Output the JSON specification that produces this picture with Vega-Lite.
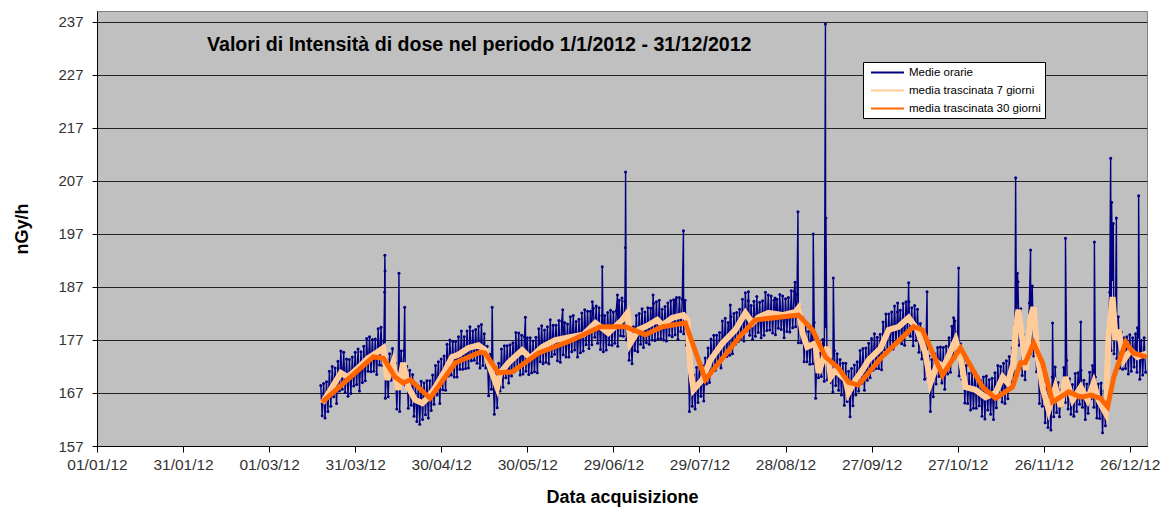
{
"$schema": "https://vega.github.io/schema/vega-lite/v6.json",
"width": 1050, "height": 435,
"autosize": {"type": "none"},
"padding": {"left": 97, "top": 11, "right": 18, "bottom": 62},
"background": "white",
"title": {"text": "Valori di Intensità di dose nel periodo 1/1/2012 - 31/12/2012", "anchor": "start", "frame": "group", "orient": "top", "offset": -54, "dx": 110, "baseline": "middle", "fontSize": 19.6, "fontWeight": "bold", "font": "Liberation Sans", "color": "black"},
"config": {
 "font": "Liberation Sans",
 "view": {"fill": "#C0C0C0", "stroke": "#808080", "strokeWidth": 1},
 "axis": {"domainColor": "black", "tickColor": "black", "labelColor": "#333333", "labelFont": "Liberation Sans", "titleFont": "Liberation Sans", "titleColor": "black", "titleFontWeight": "bold", "titleFontSize": 18}
},
"datasets": {
 "orarie": [
{"t":"2012-03-19","v":168.4},{"t":"2012-03-19T12:00Z","v":162.7},{"t":"2012-03-20","v":168.8},{"t":"2012-03-20T12:00Z","v":162.3},{"t":"2012-03-21","v":169.1},{"t":"2012-03-21T12:00Z","v":163.5},{"t":"2012-03-22","v":171.1},{"t":"2012-03-22T12:00Z","v":164.5},{"t":"2012-03-23","v":172.0},{"t":"2012-03-23T12:00Z","v":166.3},{"t":"2012-03-24","v":171.7},{"t":"2012-03-24T12:00Z","v":165.0},{"t":"2012-03-25","v":173.0},{"t":"2012-03-25T12:00Z","v":167.4},{"t":"2012-03-26","v":174.9},{"t":"2012-03-26T12:00Z","v":167.7},{"t":"2012-03-27","v":174.7},{"t":"2012-03-27T12:00Z","v":167.1},{"t":"2012-03-28","v":173.4},{"t":"2012-03-28T12:00Z","v":166.4},{"t":"2012-03-29","v":173.3},{"t":"2012-03-29T12:00Z","v":166.9},{"t":"2012-03-30","v":173.8},{"t":"2012-03-30T12:00Z","v":168.3},{"t":"2012-03-31","v":174.7},{"t":"2012-03-31T12:00Z","v":168.6},
{"t":"2012-04-01","v":175.3},{"t":"2012-04-01T12:00Z","v":167.4},{"t":"2012-04-02","v":174.8},{"t":"2012-04-02T12:00Z","v":169.0},{"t":"2012-04-03","v":175.8},{"t":"2012-04-03T12:00Z","v":169.3},{"t":"2012-04-04","v":177.3},{"t":"2012-04-04T12:00Z","v":171.1},{"t":"2012-04-05","v":177.6},{"t":"2012-04-05T12:00Z","v":171.0},{"t":"2012-04-06","v":177.1},{"t":"2012-04-06T12:00Z","v":171.1},{"t":"2012-04-07","v":177.2},{"t":"2012-04-07T12:00Z","v":170.5},{"t":"2012-04-08","v":179.1},{"t":"2012-04-08T12:00Z","v":172.3},{"t":"2012-04-09","v":179.4},{"t":"2012-04-09T12:00Z","v":172.2},{"t":"2012-04-10","v":176.8},{"t":"2012-04-10T06:00Z","v":186.0},{"t":"2012-04-10T08:00Z","v":193.0},{"t":"2012-04-10T10:00Z","v":190.0},{"t":"2012-04-10T12:00Z","v":166.0},{"t":"2012-04-11","v":173.3},{"t":"2012-04-11T12:00Z","v":166.3},{"t":"2012-04-12","v":174.4},{"t":"2012-04-12T12:00Z","v":169.4},{"t":"2012-04-13","v":175.4},{"t":"2012-04-13T12:00Z","v":169.9},{"t":"2012-04-14","v":172.6},{"t":"2012-04-14T12:00Z","v":164.0},{"t":"2012-04-15","v":171.4},{"t":"2012-04-15T06:00Z","v":189.6},{"t":"2012-04-15T12:00Z","v":163.5},{"t":"2012-04-16","v":174.9},{"t":"2012-04-16T12:00Z","v":169.3},{"t":"2012-04-17","v":175.0},{"t":"2012-04-17T06:00Z","v":183.2},{"t":"2012-04-17T12:00Z","v":168.5},{"t":"2012-04-18","v":172.0},{"t":"2012-04-18T12:00Z","v":164.1},{"t":"2012-04-19","v":171.3},{"t":"2012-04-19T12:00Z","v":164.7},{"t":"2012-04-20","v":170.5},{"t":"2012-04-20T12:00Z","v":162.6},{"t":"2012-04-21","v":168.3},{"t":"2012-04-21T12:00Z","v":161.6},{"t":"2012-04-22","v":168.2},{"t":"2012-04-22T12:00Z","v":161.1},{"t":"2012-04-23","v":169.2},{"t":"2012-04-23T12:00Z","v":162.0},{"t":"2012-04-24","v":168.9},{"t":"2012-04-24T12:00Z","v":162.9},{"t":"2012-04-25","v":169.3},{"t":"2012-04-25T12:00Z","v":162.3},{"t":"2012-04-26","v":169.3},{"t":"2012-04-26T12:00Z","v":163.7},{"t":"2012-04-27","v":170.4},{"t":"2012-04-27T12:00Z","v":164.9},{"t":"2012-04-28","v":172.2},{"t":"2012-04-28T12:00Z","v":166.6},{"t":"2012-04-29","v":172.9},{"t":"2012-04-29T12:00Z","v":165.0},{"t":"2012-04-30","v":173.4},{"t":"2012-04-30T12:00Z","v":167.6},
{"t":"2012-05-01","v":174.0},{"t":"2012-05-01T12:00Z","v":167.5},{"t":"2012-05-02","v":176.2},{"t":"2012-05-02T12:00Z","v":170.2},{"t":"2012-05-03","v":177.0},{"t":"2012-05-03T12:00Z","v":170.4},{"t":"2012-05-04","v":176.7},{"t":"2012-05-04T12:00Z","v":170.0},{"t":"2012-05-05","v":176.7},{"t":"2012-05-05T12:00Z","v":170.0},{"t":"2012-05-06","v":177.6},{"t":"2012-05-06T12:00Z","v":171.5},{"t":"2012-05-07","v":178.7},{"t":"2012-05-07T12:00Z","v":171.5},{"t":"2012-05-08","v":177.6},{"t":"2012-05-08T12:00Z","v":171.6},{"t":"2012-05-09","v":178.7},{"t":"2012-05-09T12:00Z","v":171.7},{"t":"2012-05-10","v":179.5},{"t":"2012-05-10T12:00Z","v":173.1},{"t":"2012-05-11","v":178.7},{"t":"2012-05-11T12:00Z","v":173.2},{"t":"2012-05-12","v":179.0},{"t":"2012-05-12T12:00Z","v":172.6},{"t":"2012-05-13","v":179.6},{"t":"2012-05-13T12:00Z","v":171.7},{"t":"2012-05-14","v":179.9},{"t":"2012-05-14T12:00Z","v":172.2},{"t":"2012-05-15","v":178.2},{"t":"2012-05-15T12:00Z","v":171.7},{"t":"2012-05-16","v":175.8},{"t":"2012-05-16T12:00Z","v":166.5},{"t":"2012-05-17","v":174.3},{"t":"2012-05-17T12:00Z","v":167.7},{"t":"2012-05-17T18:00Z","v":183.2},{"t":"2012-05-18","v":172.2},{"t":"2012-05-18T12:00Z","v":163.0},{"t":"2012-05-19","v":170.9},{"t":"2012-05-19T12:00Z","v":164.2},{"t":"2012-05-20","v":172.6},{"t":"2012-05-20T12:00Z","v":167.4},{"t":"2012-05-21","v":175.3},{"t":"2012-05-21T12:00Z","v":168.1},{"t":"2012-05-22","v":175.9},{"t":"2012-05-22T12:00Z","v":169.9},{"t":"2012-05-23","v":175.9},{"t":"2012-05-23T12:00Z","v":168.9},{"t":"2012-05-24","v":176.1},{"t":"2012-05-24T12:00Z","v":170.2},{"t":"2012-05-25","v":176.5},{"t":"2012-05-25T12:00Z","v":171.0},{"t":"2012-05-26","v":178.4},{"t":"2012-05-26T12:00Z","v":171.7},{"t":"2012-05-27","v":178.3},{"t":"2012-05-27T12:00Z","v":170.4},{"t":"2012-05-28","v":177.9},{"t":"2012-05-28T12:00Z","v":170.6},{"t":"2012-05-29","v":177.6},{"t":"2012-05-29T08:00Z","v":181.3},{"t":"2012-05-29T12:00Z","v":171.1},{"t":"2012-05-30","v":177.4},{"t":"2012-05-30T12:00Z","v":170.5},{"t":"2012-05-31","v":177.4},{"t":"2012-05-31T12:00Z","v":170.8},
{"t":"2012-06-01","v":176.8},{"t":"2012-06-01T12:00Z","v":171.0},{"t":"2012-06-02","v":177.5},{"t":"2012-06-02T12:00Z","v":170.8},{"t":"2012-06-03","v":179.1},{"t":"2012-06-03T12:00Z","v":172.9},{"t":"2012-06-04","v":179.7},{"t":"2012-06-04T12:00Z","v":172.5},{"t":"2012-06-05","v":178.9},{"t":"2012-06-05T12:00Z","v":172.8},{"t":"2012-06-06","v":179.5},{"t":"2012-06-06T12:00Z","v":172.5},{"t":"2012-06-07","v":180.8},{"t":"2012-06-07T12:00Z","v":173.9},{"t":"2012-06-08","v":179.8},{"t":"2012-06-08T12:00Z","v":174.3},{"t":"2012-06-09","v":179.8},{"t":"2012-06-09T12:00Z","v":173.1},{"t":"2012-06-10","v":180.7},{"t":"2012-06-10T12:00Z","v":172.8},{"t":"2012-06-11","v":180.6},{"t":"2012-06-11T08:00Z","v":182.7},{"t":"2012-06-11T12:00Z","v":174.2},{"t":"2012-06-12","v":180.3},{"t":"2012-06-12T12:00Z","v":173.8},{"t":"2012-06-13","v":180.0},{"t":"2012-06-13T12:00Z","v":173.8},{"t":"2012-06-14","v":181.4},{"t":"2012-06-14T12:00Z","v":174.8},{"t":"2012-06-15","v":181.6},{"t":"2012-06-15T12:00Z","v":175.1},{"t":"2012-06-16","v":180.5},{"t":"2012-06-16T12:00Z","v":173.8},{"t":"2012-06-17","v":180.9},{"t":"2012-06-17T12:00Z","v":174.6},{"t":"2012-06-18","v":182.1},{"t":"2012-06-18T12:00Z","v":174.9},{"t":"2012-06-19","v":182.7},{"t":"2012-06-19T12:00Z","v":176.1},{"t":"2012-06-20","v":182.4},{"t":"2012-06-20T12:00Z","v":175.4},{"t":"2012-06-21","v":182.4},{"t":"2012-06-21T12:00Z","v":176.1},{"t":"2012-06-21T16:00Z","v":184.2},{"t":"2012-06-22","v":183.0},{"t":"2012-06-22T12:00Z","v":177.5},{"t":"2012-06-23","v":183.4},{"t":"2012-06-23T12:00Z","v":176.4},{"t":"2012-06-24","v":183.1},{"t":"2012-06-24T12:00Z","v":175.2},{"t":"2012-06-25","v":181.6},{"t":"2012-06-25T03:00Z","v":190.8},{"t":"2012-06-25T12:00Z","v":174.8},{"t":"2012-06-26","v":181.6},{"t":"2012-06-26T12:00Z","v":175.1},{"t":"2012-06-27","v":182.2},{"t":"2012-06-27T12:00Z","v":176.1},{"t":"2012-06-28","v":182.6},{"t":"2012-06-28T12:00Z","v":176.0},{"t":"2012-06-29","v":182.3},{"t":"2012-06-29T12:00Z","v":176.4},{"t":"2012-06-30","v":182.5},{"t":"2012-06-30T10:00Z","v":185.5},{"t":"2012-06-30T12:00Z","v":175.8},
{"t":"2012-07-01","v":184.5},{"t":"2012-07-01T12:00Z","v":177.8},{"t":"2012-07-02","v":184.9},{"t":"2012-07-02T12:00Z","v":177.7},{"t":"2012-07-03","v":184.3},{"t":"2012-07-03T04:00Z","v":194.4},{"t":"2012-07-03T06:00Z","v":208.7},{"t":"2012-07-03T12:00Z","v":177.0},{"t":"2012-07-04","v":181.5},{"t":"2012-07-04T12:00Z","v":173.2},{"t":"2012-07-05","v":179.0},{"t":"2012-07-05T12:00Z","v":172.5},{"t":"2012-07-06","v":179.5},{"t":"2012-07-06T12:00Z","v":175.0},{"t":"2012-07-07","v":181.6},{"t":"2012-07-07T12:00Z","v":174.8},{"t":"2012-07-08","v":182.0},{"t":"2012-07-08T12:00Z","v":176.2},{"t":"2012-07-09","v":182.9},{"t":"2012-07-09T12:00Z","v":175.6},{"t":"2012-07-10","v":182.3},{"t":"2012-07-10T12:00Z","v":176.5},{"t":"2012-07-11","v":183.1},{"t":"2012-07-11T12:00Z","v":176.2},{"t":"2012-07-12","v":183.0},{"t":"2012-07-12T12:00Z","v":177.0},{"t":"2012-07-12T20:00Z","v":185.5},{"t":"2012-07-13","v":183.9},{"t":"2012-07-13T12:00Z","v":176.9},{"t":"2012-07-14","v":184.2},{"t":"2012-07-14T12:00Z","v":177.2},{"t":"2012-07-15","v":184.5},{"t":"2012-07-15T12:00Z","v":177.3},{"t":"2012-07-16","v":182.8},{"t":"2012-07-16T12:00Z","v":177.0},{"t":"2012-07-17","v":183.3},{"t":"2012-07-17T12:00Z","v":176.8},{"t":"2012-07-18","v":184.0},{"t":"2012-07-18T12:00Z","v":177.9},{"t":"2012-07-19","v":184.4},{"t":"2012-07-19T12:00Z","v":177.6},{"t":"2012-07-20","v":184.6},{"t":"2012-07-20T12:00Z","v":178.0},{"t":"2012-07-20T14:00Z","v":184.5},{"t":"2012-07-21","v":185.0},{"t":"2012-07-21T12:00Z","v":177.1},{"t":"2012-07-22","v":185.0},{"t":"2012-07-22T12:00Z","v":178.6},{"t":"2012-07-23","v":184.7},{"t":"2012-07-23T10:00Z","v":197.6},{"t":"2012-07-23T12:00Z","v":178.2},{"t":"2012-07-24","v":184.5},{"t":"2012-07-24T12:00Z","v":176.0},{"t":"2012-07-25","v":180.5},{"t":"2012-07-25T12:00Z","v":163.5},{"t":"2012-07-26","v":172.0},{"t":"2012-07-26T12:00Z","v":164.5},{"t":"2012-07-27","v":170.4},{"t":"2012-07-27T12:00Z","v":164.0},{"t":"2012-07-28","v":171.8},{"t":"2012-07-28T12:00Z","v":165.2},{"t":"2012-07-29","v":172.2},{"t":"2012-07-29T12:00Z","v":166.4},{"t":"2012-07-30","v":172.2},{"t":"2012-07-30T12:00Z","v":165.5},{"t":"2012-07-31","v":173.6},{"t":"2012-07-31T12:00Z","v":168.7},
{"t":"2012-08-01","v":175.5},{"t":"2012-08-01T12:00Z","v":169.0},{"t":"2012-08-02","v":177.2},{"t":"2012-08-02T12:00Z","v":171.4},{"t":"2012-08-03","v":177.9},{"t":"2012-08-03T12:00Z","v":171.3},{"t":"2012-08-04","v":177.9},{"t":"2012-08-04T12:00Z","v":172.3},{"t":"2012-08-05","v":178.4},{"t":"2012-08-05T12:00Z","v":171.7},{"t":"2012-08-06","v":180.6},{"t":"2012-08-06T12:00Z","v":174.0},{"t":"2012-08-07","v":181.1},{"t":"2012-08-07T12:00Z","v":173.9},{"t":"2012-08-08","v":180.3},{"t":"2012-08-08T12:00Z","v":174.1},{"t":"2012-08-08T18:00Z","v":183.6},{"t":"2012-08-09","v":181.4},{"t":"2012-08-09T12:00Z","v":174.4},{"t":"2012-08-10","v":182.0},{"t":"2012-08-10T12:00Z","v":176.2},{"t":"2012-08-11","v":182.2},{"t":"2012-08-11T12:00Z","v":176.7},{"t":"2012-08-12","v":182.8},{"t":"2012-08-12T12:00Z","v":177.3},{"t":"2012-08-13","v":184.7},{"t":"2012-08-13T12:00Z","v":176.8},{"t":"2012-08-14","v":185.9},{"t":"2012-08-14T12:00Z","v":178.7},{"t":"2012-08-15","v":184.4},{"t":"2012-08-15T02:00Z","v":186.1},{"t":"2012-08-15T12:00Z","v":177.9},{"t":"2012-08-16","v":183.5},{"t":"2012-08-16T12:00Z","v":177.1},{"t":"2012-08-17","v":184.3},{"t":"2012-08-17T12:00Z","v":177.7},{"t":"2012-08-18","v":185.2},{"t":"2012-08-18T12:00Z","v":178.4},{"t":"2012-08-19","v":184.1},{"t":"2012-08-19T12:00Z","v":177.4},{"t":"2012-08-20","v":184.4},{"t":"2012-08-20T12:00Z","v":177.9},{"t":"2012-08-21","v":186.0},{"t":"2012-08-21T12:00Z","v":178.8},{"t":"2012-08-22","v":185.5},{"t":"2012-08-22T12:00Z","v":178.9},{"t":"2012-08-23","v":185.3},{"t":"2012-08-23T12:00Z","v":178.3},{"t":"2012-08-24","v":184.5},{"t":"2012-08-24T08:00Z","v":184.9},{"t":"2012-08-24T12:00Z","v":178.0},{"t":"2012-08-25","v":184.7},{"t":"2012-08-25T12:00Z","v":179.2},{"t":"2012-08-26","v":185.6},{"t":"2012-08-26T12:00Z","v":179.0},{"t":"2012-08-27","v":185.3},{"t":"2012-08-27T12:00Z","v":177.4},{"t":"2012-08-28","v":184.8},{"t":"2012-08-28T12:00Z","v":178.6},{"t":"2012-08-29","v":185.0},{"t":"2012-08-29T12:00Z","v":178.5},{"t":"2012-08-30","v":186.3},{"t":"2012-08-30T12:00Z","v":179.3},{"t":"2012-08-31","v":186.1},{"t":"2012-08-31T08:00Z","v":187.9},{"t":"2012-08-31T12:00Z","v":179.5},
{"t":"2012-09-01","v":185.6},{"t":"2012-09-01T08:00Z","v":201.2},{"t":"2012-09-01T12:00Z","v":176.5},{"t":"2012-09-02","v":183.2},{"t":"2012-09-02T12:00Z","v":176.5},{"t":"2012-09-03","v":181.2},{"t":"2012-09-03T12:00Z","v":172.9},{"t":"2012-09-04","v":180.1},{"t":"2012-09-04T12:00Z","v":172.9},{"t":"2012-09-05","v":178.6},{"t":"2012-09-05T12:00Z","v":172.4},{"t":"2012-09-06","v":179.5},{"t":"2012-09-06T12:00Z","v":172.5},{"t":"2012-09-06T16:00Z","v":197.0},{"t":"2012-09-07","v":180.3},{"t":"2012-09-07T12:00Z","v":166.0},{"t":"2012-09-08","v":175.4},{"t":"2012-09-08T12:00Z","v":169.9},{"t":"2012-09-09","v":174.5},{"t":"2012-09-09T12:00Z","v":170.1},{"t":"2012-09-10","v":177.1},{"t":"2012-09-10T12:00Z","v":169.2},{"t":"2012-09-10T22:00Z","v":236.6},{"t":"2012-09-11","v":179.5},{"t":"2012-09-11T02:00Z","v":200.0},{"t":"2012-09-11T12:00Z","v":169.5},{"t":"2012-09-12","v":175.5},{"t":"2012-09-12T12:00Z","v":169.0},{"t":"2012-09-13","v":173.3},{"t":"2012-09-13T12:00Z","v":167.2},{"t":"2012-09-13T16:00Z","v":188.7},{"t":"2012-09-14","v":175.0},{"t":"2012-09-14T12:00Z","v":168.4},{"t":"2012-09-15","v":174.4},{"t":"2012-09-15T12:00Z","v":167.5},{"t":"2012-09-16","v":173.3},{"t":"2012-09-16T12:00Z","v":166.6},{"t":"2012-09-17","v":172.6},{"t":"2012-09-17T12:00Z","v":164.7},{"t":"2012-09-18","v":172.6},{"t":"2012-09-18T12:00Z","v":165.4},{"t":"2012-09-19","v":171.1},{"t":"2012-09-19T12:00Z","v":162.5},{"t":"2012-09-20","v":171.6},{"t":"2012-09-20T12:00Z","v":164.6},{"t":"2012-09-21","v":172.3},{"t":"2012-09-21T12:00Z","v":166.6},{"t":"2012-09-22","v":172.9},{"t":"2012-09-22T12:00Z","v":167.4},{"t":"2012-09-23","v":175.0},{"t":"2012-09-23T12:00Z","v":168.8},{"t":"2012-09-24","v":175.4},{"t":"2012-09-24T12:00Z","v":167.5},{"t":"2012-09-25","v":175.5},{"t":"2012-09-25T12:00Z","v":169.4},{"t":"2012-09-26","v":176.4},{"t":"2012-09-26T12:00Z","v":169.9},{"t":"2012-09-27","v":177.3},{"t":"2012-09-27T12:00Z","v":171.3},{"t":"2012-09-28","v":178.2},{"t":"2012-09-28T12:00Z","v":171.6},{"t":"2012-09-29","v":177.5},{"t":"2012-09-29T12:00Z","v":171.6},{"t":"2012-09-30","v":178.1},{"t":"2012-09-30T12:00Z","v":171.4},
{"t":"2012-10-01","v":180.4},{"t":"2012-10-01T12:00Z","v":175.1},{"t":"2012-10-02","v":181.9},{"t":"2012-10-02T12:00Z","v":174.7},{"t":"2012-10-03","v":181.9},{"t":"2012-10-03T12:00Z","v":175.6},{"t":"2012-10-04","v":182.3},{"t":"2012-10-04T12:00Z","v":175.3},{"t":"2012-10-05","v":183.4},{"t":"2012-10-05T12:00Z","v":176.4},{"t":"2012-10-06","v":182.3},{"t":"2012-10-06T02:00Z","v":184.0},{"t":"2012-10-06T12:00Z","v":176.8},{"t":"2012-10-07","v":182.6},{"t":"2012-10-07T12:00Z","v":176.3},{"t":"2012-10-08","v":183.9},{"t":"2012-10-08T12:00Z","v":176.0},{"t":"2012-10-09","v":184.2},{"t":"2012-10-09T12:00Z","v":178.1},{"t":"2012-10-09T22:00Z","v":187.8},{"t":"2012-10-10","v":184.2},{"t":"2012-10-10T12:00Z","v":177.7},{"t":"2012-10-11","v":183.1},{"t":"2012-10-11T12:00Z","v":175.9},{"t":"2012-10-12","v":183.5},{"t":"2012-10-12T12:00Z","v":176.9},{"t":"2012-10-13","v":182.8},{"t":"2012-10-13T12:00Z","v":174.7},{"t":"2012-10-14","v":180.1},{"t":"2012-10-14T12:00Z","v":173.4},{"t":"2012-10-15","v":178.8},{"t":"2012-10-15T12:00Z","v":169.6},{"t":"2012-10-16","v":177.1},{"t":"2012-10-16T08:00Z","v":186.1},{"t":"2012-10-16T12:00Z","v":169.9},{"t":"2012-10-17","v":174.0},{"t":"2012-10-17T12:00Z","v":163.5},{"t":"2012-10-18","v":173.3},{"t":"2012-10-18T12:00Z","v":166.3},{"t":"2012-10-19","v":174.4},{"t":"2012-10-19T12:00Z","v":168.7},{"t":"2012-10-20","v":175.6},{"t":"2012-10-20T12:00Z","v":170.1},{"t":"2012-10-21","v":175.7},{"t":"2012-10-21T12:00Z","v":168.9},{"t":"2012-10-22","v":175.6},{"t":"2012-10-22T12:00Z","v":167.7},{"t":"2012-10-23","v":175.8},{"t":"2012-10-23T12:00Z","v":170.6},{"t":"2012-10-24","v":177.4},{"t":"2012-10-24T12:00Z","v":170.9},{"t":"2012-10-25","v":179.6},{"t":"2012-10-25T12:00Z","v":174.1},{"t":"2012-10-25T14:00Z","v":181.2},{"t":"2012-10-26","v":180.6},{"t":"2012-10-26T12:00Z","v":174.0},{"t":"2012-10-27","v":178.5},{"t":"2012-10-27T08:00Z","v":190.6},{"t":"2012-10-27T12:00Z","v":170.2},{"t":"2012-10-28","v":176.3},{"t":"2012-10-28T12:00Z","v":169.6},{"t":"2012-10-29","v":174.7},{"t":"2012-10-29T12:00Z","v":165.1},{"t":"2012-10-30","v":172.2},{"t":"2012-10-30T12:00Z","v":165.0},{"t":"2012-10-31","v":170.7},{"t":"2012-10-31T12:00Z","v":163.8},
{"t":"2012-11-01","v":171.1},{"t":"2012-11-01T12:00Z","v":164.1},{"t":"2012-11-02","v":171.0},{"t":"2012-11-02T12:00Z","v":164.1},{"t":"2012-11-03","v":170.1},{"t":"2012-11-03T12:00Z","v":164.6},{"t":"2012-11-04","v":169.4},{"t":"2012-11-04T12:00Z","v":162.6},{"t":"2012-11-05","v":170.0},{"t":"2012-11-05T12:00Z","v":162.1},{"t":"2012-11-06","v":170.2},{"t":"2012-11-06T12:00Z","v":163.8},{"t":"2012-11-07","v":169.5},{"t":"2012-11-07T12:00Z","v":163.0},{"t":"2012-11-08","v":169.8},{"t":"2012-11-08T12:00Z","v":162.0},{"t":"2012-11-09","v":170.8},{"t":"2012-11-09T12:00Z","v":164.2},{"t":"2012-11-10","v":172.2},{"t":"2012-11-10T12:00Z","v":166.3},{"t":"2012-11-11","v":172.0},{"t":"2012-11-11T12:00Z","v":165.3},{"t":"2012-11-12","v":172.6},{"t":"2012-11-12T12:00Z","v":165.0},{"t":"2012-11-13","v":173.1},{"t":"2012-11-13T12:00Z","v":165.9},{"t":"2012-11-14","v":173.9},{"t":"2012-11-14T12:00Z","v":169.1},{"t":"2012-11-15","v":175.5},{"t":"2012-11-15T12:00Z","v":168.5},{"t":"2012-11-16","v":180.1},{"t":"2012-11-16T05:00Z","v":207.6},{"t":"2012-11-16T12:00Z","v":178.7},{"t":"2012-11-16T20:00Z","v":189.6},{"t":"2012-11-17","v":188.0},{"t":"2012-11-17T12:00Z","v":176.0},{"t":"2012-11-18","v":182.9},{"t":"2012-11-18T12:00Z","v":170.3},{"t":"2012-11-19","v":178.0},{"t":"2012-11-19T12:00Z","v":169.5},{"t":"2012-11-20","v":177.0},{"t":"2012-11-20T12:00Z","v":176.6},{"t":"2012-11-21","v":184.0},{"t":"2012-11-21T10:00Z","v":194.0},{"t":"2012-11-21T12:00Z","v":174.5},{"t":"2012-11-22","v":187.2},{"t":"2012-11-22T12:00Z","v":174.0},{"t":"2012-11-23","v":181.5},{"t":"2012-11-23T12:00Z","v":171.0},{"t":"2012-11-24","v":175.3},{"t":"2012-11-24T12:00Z","v":165.0},{"t":"2012-11-25","v":173.0},{"t":"2012-11-25T12:00Z","v":164.5},{"t":"2012-11-26","v":170.2},{"t":"2012-11-26T12:00Z","v":161.4},{"t":"2012-11-27","v":168.0},{"t":"2012-11-27T12:00Z","v":160.5},{"t":"2012-11-28","v":166.9},{"t":"2012-11-28T12:00Z","v":160.0},{"t":"2012-11-29","v":170.0},{"t":"2012-11-29T02:00Z","v":180.2},{"t":"2012-11-29T12:00Z","v":162.5},{"t":"2012-11-30","v":171.9},{"t":"2012-11-30T12:00Z","v":163.3},
{"t":"2012-12-01","v":169.0},{"t":"2012-12-01T12:00Z","v":162.5},{"t":"2012-12-02","v":167.6},{"t":"2012-12-02T12:00Z","v":164.6},{"t":"2012-12-03","v":171.8},{"t":"2012-12-03T12:00Z","v":165.2},{"t":"2012-12-03T14:00Z","v":196.2},{"t":"2012-12-04","v":173.2},{"t":"2012-12-04T12:00Z","v":164.0},{"t":"2012-12-05","v":169.7},{"t":"2012-12-05T12:00Z","v":163.0},{"t":"2012-12-06","v":168.6},{"t":"2012-12-06T12:00Z","v":162.6},{"t":"2012-12-07","v":170.7},{"t":"2012-12-07T12:00Z","v":163.5},{"t":"2012-12-08","v":170.8},{"t":"2012-12-08T12:00Z","v":164.9},{"t":"2012-12-08T22:00Z","v":180.4},{"t":"2012-12-09","v":171.3},{"t":"2012-12-09T12:00Z","v":164.3},{"t":"2012-12-10","v":169.4},{"t":"2012-12-10T12:00Z","v":162.0},{"t":"2012-12-11","v":168.7},{"t":"2012-12-11T12:00Z","v":163.2},{"t":"2012-12-12","v":170.9},{"t":"2012-12-12T12:00Z","v":165.9},{"t":"2012-12-13","v":172.2},{"t":"2012-12-13T12:00Z","v":164.3},{"t":"2012-12-13T16:00Z","v":195.5},{"t":"2012-12-14","v":170.0},{"t":"2012-12-14T12:00Z","v":162.3},{"t":"2012-12-15","v":168.7},{"t":"2012-12-15T12:00Z","v":162.2},{"t":"2012-12-16","v":168.9},{"t":"2012-12-16T12:00Z","v":159.5},{"t":"2012-12-17","v":167.4},{"t":"2012-12-17T12:00Z","v":160.8},{"t":"2012-12-18","v":172.8},{"t":"2012-12-18T12:00Z","v":176.0},{"t":"2012-12-19","v":186.0},{"t":"2012-12-19T08:00Z","v":211.3},{"t":"2012-12-19T12:00Z","v":175.0},{"t":"2012-12-19T16:00Z","v":203.0},{"t":"2012-12-20","v":188.4},{"t":"2012-12-20T06:00Z","v":199.0},{"t":"2012-12-20T12:00Z","v":174.4},{"t":"2012-12-21","v":181.0},{"t":"2012-12-21T08:00Z","v":200.0},{"t":"2012-12-21T12:00Z","v":173.5},{"t":"2012-12-22","v":181.4},{"t":"2012-12-22T12:00Z","v":171.7},{"t":"2012-12-23","v":178.5},{"t":"2012-12-23T12:00Z","v":171.5},{"t":"2012-12-24","v":177.4},{"t":"2012-12-24T12:00Z","v":171.6},{"t":"2012-12-25","v":177.6},{"t":"2012-12-25T12:00Z","v":170.6},{"t":"2012-12-26","v":178.0},{"t":"2012-12-26T12:00Z","v":171.1},{"t":"2012-12-27","v":177.4},{"t":"2012-12-27T12:00Z","v":171.9},{"t":"2012-12-28","v":178.2},{"t":"2012-12-28T12:00Z","v":170.9},{"t":"2012-12-28T16:00Z","v":179.3},{"t":"2012-12-29","v":177.5},{"t":"2012-12-29T02:00Z","v":204.2},{"t":"2012-12-29T12:00Z","v":169.6},{"t":"2012-12-30","v":176.9},{"t":"2012-12-30T12:00Z","v":170.4},{"t":"2012-12-31","v":177.4},{"t":"2012-12-31T12:00Z","v":170.9}
 ],
 "m7": [
{"t":"2012-03-19T12:00Z","v":165.1},{"t":"2012-03-23","v":168.1},{"t":"2012-03-26","v":170.8},{"t":"2012-03-28T12:00Z","v":170.0},{"t":"2012-04-01","v":171.7},{"t":"2012-04-04T12:00Z","v":173.6},{"t":"2012-04-07T16:00Z","v":174.7},{"t":"2012-04-09T19:00Z","v":175.5},{"t":"2012-04-11T05:00Z","v":169.5},{"t":"2012-04-13T05:00Z","v":172.7},{"t":"2012-04-15","v":167.6},{"t":"2012-04-16T17:00Z","v":172.7},{"t":"2012-04-18T12:00Z","v":168.1},{"t":"2012-04-20T22:00Z","v":165.7},{"t":"2012-04-23T10:00Z","v":165.1},{"t":"2012-04-25T12:00Z","v":166.2},{"t":"2012-04-27T22:00Z","v":168.1},{"t":"2012-05-01T10:00Z","v":171.3},{"t":"2012-05-03T19:00Z","v":173.8},{"t":"2012-05-05T22:00Z","v":174.2},{"t":"2012-05-09T10:00Z","v":175.5},{"t":"2012-05-12T22:00Z","v":176.0},{"t":"2012-05-15T07:00Z","v":175.1},{"t":"2012-05-16T10:00Z","v":172.7},{"t":"2012-05-19T12:00Z","v":168.1},{"t":"2012-05-20T14:00Z","v":170.8},{"t":"2012-05-23T10:00Z","v":172.7},{"t":"2012-05-28T05:00Z","v":175.1},{"t":"2012-05-31","v":173.6},{"t":"2012-06-04T05:00Z","v":175.7},{"t":"2012-06-08T17:00Z","v":177.0},{"t":"2012-06-14T17:00Z","v":177.6},{"t":"2012-06-18T12:00Z","v":178.0},{"t":"2012-06-22T17:00Z","v":180.2},{"t":"2012-06-24T10:00Z","v":179.5},{"t":"2012-06-27T05:00Z","v":178.3},{"t":"2012-07-02T02:00Z","v":180.8},{"t":"2012-07-03T22:00Z","v":182.1},{"t":"2012-07-04T22:00Z","v":176.4},{"t":"2012-07-07T17:00Z","v":178.9},{"t":"2012-07-11T05:00Z","v":179.8},{"t":"2012-07-14T07:00Z","v":180.8},{"t":"2012-07-16T02:00Z","v":179.8},{"t":"2012-07-19T14:00Z","v":181.2},{"t":"2012-07-23T10:00Z","v":181.7},{"t":"2012-07-24T19:00Z","v":180.8},{"t":"2012-07-25T19:00Z","v":171.9},{"t":"2012-07-26T22:00Z","v":167.6},{"t":"2012-07-30","v":169.5},{"t":"2012-08-01T19:00Z","v":173.2},{"t":"2012-08-06","v":176.4},{"t":"2012-08-10T12:00Z","v":178.9},{"t":"2012-08-14","v":182.1},{"t":"2012-08-16T12:00Z","v":180.2},{"t":"2012-08-18T14:00Z","v":181.3},{"t":"2012-08-22","v":182.1},{"t":"2012-08-26T22:00Z","v":181.7},{"t":"2012-08-31T12:00Z","v":182.3},{"t":"2012-09-01T12:00Z","v":183.0},{"t":"2012-09-02T22:00Z","v":178.3},{"t":"2012-09-04T14:00Z","v":175.7},{"t":"2012-09-07T10:00Z","v":176.4},{"t":"2012-09-08T12:00Z","v":170.8},{"t":"2012-09-11T14:00Z","v":175.7},{"t":"2012-09-12T17:00Z","v":170.0},{"t":"2012-09-14T10:00Z","v":171.3},{"t":"2012-09-17T22:00Z","v":169.5},{"t":"2012-09-18T22:00Z","v":167.0},{"t":"2012-09-21T10:00Z","v":169.5},{"t":"2012-09-23T19:00Z","v":171.3},{"t":"2012-09-25T22:00Z","v":173.2},{"t":"2012-09-30T02:00Z","v":175.4},{"t":"2012-10-02T22:00Z","v":178.9},{"t":"2012-10-06T10:00Z","v":179.5},{"t":"2012-10-09T22:00Z","v":181.2},{"t":"2012-10-13","v":178.9},{"t":"2012-10-15T19:00Z","v":174.5},{"t":"2012-10-17T12:00Z","v":168.9},{"t":"2012-10-20","v":172.7},{"t":"2012-10-22T02:00Z","v":171.9},{"t":"2012-10-26T07:00Z","v":177.0},{"t":"2012-10-28","v":173.6},{"t":"2012-10-29T19:00Z","v":168.1},{"t":"2012-11-02T05:00Z","v":167.6},{"t":"2012-11-05T17:00Z","v":166.2},{"t":"2012-11-09T05:00Z","v":167.0},{"t":"2012-11-11T17:00Z","v":170.0},{"t":"2012-11-13T10:00Z","v":168.9},{"t":"2012-11-15T12:00Z","v":172.7},{"t":"2012-11-16T05:00Z","v":178.9},{"t":"2012-11-17T05:00Z","v":182.7},{"t":"2012-11-18T14:00Z","v":177.0},{"t":"2012-11-19T17:00Z","v":171.3},{"t":"2012-11-21T10:00Z","v":181.3},{"t":"2012-11-22T12:00Z","v":183.2},{"t":"2012-11-23T22:00Z","v":173.8},{"t":"2012-11-25T14:00Z","v":168.1},{"t":"2012-11-27T17:00Z","v":163.8},{"t":"2012-11-30T02:00Z","v":168.1},{"t":"2012-12-01T22:00Z","v":164.4},{"t":"2012-12-03T14:00Z","v":170.0},{"t":"2012-12-06T02:00Z","v":165.7},{"t":"2012-12-08T22:00Z","v":168.1},{"t":"2012-12-11T07:00Z","v":165.7},{"t":"2012-12-13T10:00Z","v":168.9},{"t":"2012-12-15T02:00Z","v":165.7},{"t":"2012-12-17T14:00Z","v":163.2},{"t":"2012-12-18T14:00Z","v":177.6},{"t":"2012-12-20","v":185.1},{"t":"2012-12-21T02:00Z","v":177.0},{"t":"2012-12-22T02:00Z","v":178.9},{"t":"2012-12-23T22:00Z","v":173.2},{"t":"2012-12-26T07:00Z","v":175.1},{"t":"2012-12-28T17:00Z","v":173.8},{"t":"2012-12-31T23:00Z","v":174.5}
 ],
 "m30": [
{"t":"2012-03-19T12:00Z","v":165.3},{"t":"2012-04-06T07:00Z","v":173.8},{"t":"2012-04-09T19:00Z","v":173.6},{"t":"2012-04-13T22:00Z","v":170.0},{"t":"2012-04-16T17:00Z","v":168.9},{"t":"2012-04-19T05:00Z","v":169.5},{"t":"2012-04-26T02:00Z","v":166.0},{"t":"2012-05-04T22:00Z","v":172.7},{"t":"2012-05-13T14:00Z","v":174.7},{"t":"2012-05-15T07:00Z","v":174.5},{"t":"2012-05-19T22:00Z","v":170.8},{"t":"2012-05-24T19:00Z","v":171.0},{"t":"2012-06-02T19:00Z","v":174.5},{"t":"2012-06-14T17:00Z","v":177.0},{"t":"2012-06-24T10:00Z","v":179.5},{"t":"2012-07-03T05:00Z","v":179.5},{"t":"2012-07-10T02:00Z","v":178.0},{"t":"2012-07-16T02:00Z","v":179.5},{"t":"2012-07-24T02:00Z","v":180.2},{"t":"2012-07-31T02:00Z","v":169.5},{"t":"2012-08-12T07:00Z","v":177.8},{"t":"2012-08-17T12:00Z","v":180.8},{"t":"2012-09-01T12:00Z","v":181.7},{"t":"2012-09-06T10:00Z","v":178.9},{"t":"2012-09-10T22:00Z","v":173.8},{"t":"2012-09-15T12:00Z","v":171.7},{"t":"2012-09-18T22:00Z","v":169.0},{"t":"2012-09-22T10:00Z","v":168.5},{"t":"2012-09-30T02:00Z","v":173.5},{"t":"2012-10-11T14:00Z","v":179.5},{"t":"2012-10-14T17:00Z","v":178.9},{"t":"2012-10-21T17:00Z","v":170.4},{"t":"2012-10-28","v":175.5},{"t":"2012-11-04T17:00Z","v":168.1},{"t":"2012-11-09T05:00Z","v":166.0},{"t":"2012-11-15T02:00Z","v":168.1},{"t":"2012-11-17T22:00Z","v":172.7},{"t":"2012-11-19T14:00Z","v":172.7},{"t":"2012-11-22T12:00Z","v":176.4},{"t":"2012-11-25T14:00Z","v":172.7},{"t":"2012-11-29T02:00Z","v":165.3},{"t":"2012-12-04T17:00Z","v":167.2},{"t":"2012-12-08T22:00Z","v":166.2},{"t":"2012-12-12T10:00Z","v":166.6},{"t":"2012-12-15T19:00Z","v":166.0},{"t":"2012-12-18T07:00Z","v":164.4},{"t":"2012-12-20T10:00Z","v":170.0},{"t":"2012-12-24T14:00Z","v":176.6},{"t":"2012-12-27T07:00Z","v":174.5},{"t":"2012-12-31T23:00Z","v":173.8}
 ]
},
"encoding": {
 "x": {"field": "t", "type": "temporal",
  "scale": {"type": "utc", "nice": false, "domain": [{"year":2012,"month":1,"date":1,"utc":true},{"year":2013,"month":1,"date":1,"utc":true}]},
  "axis": {"title": "Data acquisizione", "format": "%d/%m/%y", "grid": false, "tickSize": 6, "labelFontSize": 15.5, "labelPadding": 5, "titlePadding": 16, "labelOverlap": false, "labelFlush": false,
   "values": [{"year":2012,"month":1,"date":1,"utc":true},{"year":2012,"month":1,"date":31,"utc":true},{"year":2012,"month":3,"date":1,"utc":true},{"year":2012,"month":3,"date":31,"utc":true},{"year":2012,"month":4,"date":30,"utc":true},{"year":2012,"month":5,"date":30,"utc":true},{"year":2012,"month":6,"date":29,"utc":true},{"year":2012,"month":7,"date":29,"utc":true},{"year":2012,"month":8,"date":28,"utc":true},{"year":2012,"month":9,"date":27,"utc":true},{"year":2012,"month":10,"date":27,"utc":true},{"year":2012,"month":11,"date":26,"utc":true},{"year":2012,"month":12,"date":26,"utc":true}]}},
 "y": {"field": "v", "type": "quantitative",
  "scale": {"domain": [157, 239.07], "nice": false, "zero": false},
  "axis": {"title": "nGy/h", "values": [157,167,177,187,197,207,217,227,237], "grid": true, "gridColor": "#222222", "gridWidth": 1, "tickSize": 5, "labelFontSize": 15, "labelPadding": 9, "titlePadding": 26}}
},
"layer": [
 {"data": {"name": "orarie"},
  "mark": {"type": "line", "strokeWidth": 1.4, "clip": true, "point": {"filled": true, "size": 9}},
  "encoding": {"color": {"datum": "Medie orarie", "type": "nominal",
   "scale": {"domain": ["Medie orarie", "media trascinata 7 giorni", "media trascinata 30 giorni"], "range": ["#000080", "#FFCC99", "#FF6600"]},
   "legend": {"orient": "none", "legendX": 766, "legendY": 51, "title": null, "fillColor": "white", "strokeColor": "black", "padding": 4, "symbolType": "M-3,0H3", "symbolSize": 121, "symbolOffset": 14, "symbolStrokeWidth": 2, "labelFontSize": 11.5, "labelFont": "Liberation Sans", "labelColor": "black", "rowPadding": 6, "labelOffset": 15}}}},
 {"data": {"name": "m7"},
  "mark": {"type": "line", "strokeWidth": 6, "clip": true},
  "encoding": {"color": {"datum": "media trascinata 7 giorni", "type": "nominal"}}},
 {"data": {"name": "m30"},
  "mark": {"type": "line", "strokeWidth": 5, "clip": true},
  "encoding": {"color": {"datum": "media trascinata 30 giorni", "type": "nominal"}}}
]
}
